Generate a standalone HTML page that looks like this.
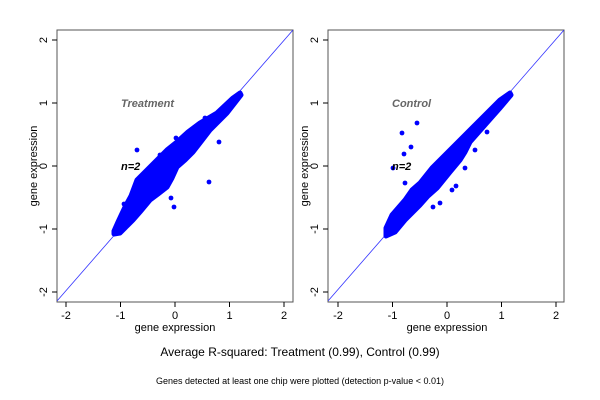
<!DOCTYPE html>
<html><head><style>body{margin:0;background:#fff}svg{display:block}text{font-family:"Liberation Sans",sans-serif}</style></head><body>
<svg width="600" height="400" viewBox="0 0 600 400">
<defs>
<clipPath id="c1"><rect x="57" y="30" width="236" height="272"/></clipPath>
<clipPath id="c2"><rect x="328" y="30" width="236" height="272"/></clipPath>
</defs>
<!-- Left panel -->
<g>
<rect x="57" y="30" width="236" height="272" fill="none" stroke="#555" stroke-width="1"/>
<line x1="57" y1="301" x2="293" y2="30" stroke="#3333ff" stroke-width="0.8" clip-path="url(#c1)"/>
<g fill="#0000ff">
<polygon stroke="#0000ff" stroke-width="5" stroke-linejoin="round" points="114,231 118,222 125,207 131,196 137,180 147,170 157,160 167,150 177,142 188,132 200,123 217,113 233,98 240,93 241,95 227,113 210,130 200,143 193,152 185,160 177,167 172,178 167,187 158,194 150,200 140,212 133,220 125,228 120,233 114,234"/>
<circle cx="137" cy="150" r="2.4"/>
<circle cx="219" cy="142" r="2.4"/>
<circle cx="209" cy="182" r="2.4"/>
<circle cx="171" cy="198" r="2.4"/>
<circle cx="174" cy="207" r="2.4"/>
<circle cx="205" cy="118" r="2.4"/>
<circle cx="176" cy="138" r="2.4"/>
<circle cx="160" cy="155" r="2.4"/>
<circle cx="124" cy="204" r="2.4"/>
<circle cx="166" cy="185" r="2.4"/>
</g>
<g stroke="#000" stroke-width="1">
<line x1="66" y1="302" x2="66" y2="307"/><line x1="120.5" y1="302" x2="120.5" y2="307"/><line x1="175" y1="302" x2="175" y2="307"/><line x1="229.5" y1="302" x2="229.5" y2="307"/><line x1="284" y1="302" x2="284" y2="307"/>
<line x1="52" y1="40" x2="57" y2="40"/><line x1="52" y1="103" x2="57" y2="103"/><line x1="52" y1="166" x2="57" y2="166"/><line x1="52" y1="229" x2="57" y2="229"/><line x1="52" y1="292" x2="57" y2="292"/>
</g>
<g font-size="11" text-anchor="middle">
<text x="66" y="319">-2</text><text x="120.5" y="319">-1</text><text x="175" y="319">0</text><text x="229.5" y="319">1</text><text x="284" y="319">2</text>
<text x="175" y="331">gene expression</text>
<text transform="translate(47,40) rotate(-90)">2</text>
<text transform="translate(47,103) rotate(-90)">1</text>
<text transform="translate(47,166) rotate(-90)">0</text>
<text transform="translate(47,229) rotate(-90)">-1</text>
<text transform="translate(47,292) rotate(-90)">-2</text>
<text transform="translate(37,166) rotate(-90)">gene expression</text>
</g>
<text x="121" y="107" font-size="11" font-weight="bold" font-style="italic" fill="#666">Treatment</text>
<text x="121" y="170" font-size="11" font-weight="bold" font-style="italic" fill="#000">n=2</text>
</g>
<!-- Right panel -->
<g>
<rect x="328" y="30" width="236" height="272" fill="none" stroke="#555" stroke-width="1"/>
<line x1="328" y1="301" x2="564" y2="30" stroke="#3333ff" stroke-width="0.8" clip-path="url(#c2)"/>
<g fill="#0000ff">
<polygon stroke="#0000ff" stroke-width="5" stroke-linejoin="round" points="386,228 392,215 405,200 412,190 420,183 432,168 445,155 460,140 480,120 500,100 510,93 511,95 500,108 485,125 470,142 465,152 460,160 450,172 437,188 428,196 420,205 405,220 395,232 386,236"/>
<circle cx="417" cy="123" r="2.4"/>
<circle cx="402" cy="133" r="2.4"/>
<circle cx="411" cy="147" r="2.4"/>
<circle cx="404" cy="154" r="2.4"/>
<circle cx="393" cy="168" r="2.4"/>
<circle cx="405" cy="183" r="2.4"/>
<circle cx="487" cy="132" r="2.4"/>
<circle cx="475" cy="150" r="2.4"/>
<circle cx="465" cy="168" r="2.4"/>
<circle cx="452" cy="190" r="2.4"/>
<circle cx="456" cy="186" r="2.4"/>
<circle cx="440" cy="203" r="2.4"/>
<circle cx="433" cy="207" r="2.4"/>
</g>
<g stroke="#000" stroke-width="1">
<line x1="338" y1="302" x2="338" y2="307"/><line x1="392.5" y1="302" x2="392.5" y2="307"/><line x1="447" y1="302" x2="447" y2="307"/><line x1="501.5" y1="302" x2="501.5" y2="307"/><line x1="556" y1="302" x2="556" y2="307"/>
<line x1="323" y1="40" x2="328" y2="40"/><line x1="323" y1="103" x2="328" y2="103"/><line x1="323" y1="166" x2="328" y2="166"/><line x1="323" y1="229" x2="328" y2="229"/><line x1="323" y1="292" x2="328" y2="292"/>
</g>
<g font-size="11" text-anchor="middle">
<text x="338" y="319">-2</text><text x="392.5" y="319">-1</text><text x="447" y="319">0</text><text x="501.5" y="319">1</text><text x="556" y="319">2</text>
<text x="447" y="331">gene expression</text>
<text transform="translate(318,40) rotate(-90)">2</text>
<text transform="translate(318,103) rotate(-90)">1</text>
<text transform="translate(318,166) rotate(-90)">0</text>
<text transform="translate(318,229) rotate(-90)">-1</text>
<text transform="translate(318,292) rotate(-90)">-2</text>
<text transform="translate(308,166) rotate(-90)">gene expression</text>
</g>
<text x="392" y="107" font-size="11" font-weight="bold" font-style="italic" fill="#666">Control</text>
<text x="392" y="170" font-size="11" font-weight="bold" font-style="italic" fill="#000">n=2</text>
</g>
<text x="300" y="356" font-size="12" text-anchor="middle">Average R-squared: Treatment (0.99), Control (0.99)</text>
<text x="300" y="384" font-size="9" text-anchor="middle">Genes detected at least one chip were plotted (detection p-value &lt; 0.01)</text>
</svg>
</body></html>
